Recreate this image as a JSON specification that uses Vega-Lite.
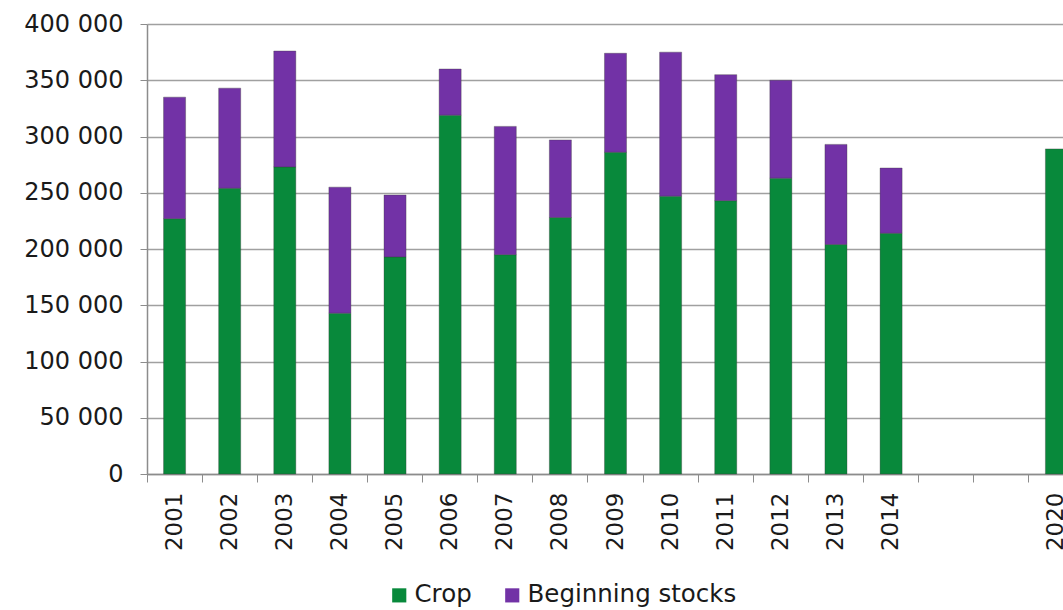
{
  "$schema": "https://vega.github.io/schema/vega-lite/v6.json",
  "autosize": "none",
  "padding": {"left": 147, "top": 24, "right": 0, "bottom": 136},
  "width": 916,
  "height": 450,
  "background": "white",
  "config": {
    "font": "DejaVu Sans",
    "view": {"stroke": null}
  },
  "data": {
    "values": [
      {"year": "2001", "series": "Crop", "value": 227000},
      {"year": "2001", "series": "Beginning stocks", "value": 108000},
      {"year": "2002", "series": "Crop", "value": 254000},
      {"year": "2002", "series": "Beginning stocks", "value": 89000},
      {"year": "2003", "series": "Crop", "value": 273000},
      {"year": "2003", "series": "Beginning stocks", "value": 103000},
      {"year": "2004", "series": "Crop", "value": 143000},
      {"year": "2004", "series": "Beginning stocks", "value": 112000},
      {"year": "2005", "series": "Crop", "value": 193000},
      {"year": "2005", "series": "Beginning stocks", "value": 55000},
      {"year": "2006", "series": "Crop", "value": 319000},
      {"year": "2006", "series": "Beginning stocks", "value": 41000},
      {"year": "2007", "series": "Crop", "value": 195000},
      {"year": "2007", "series": "Beginning stocks", "value": 114000},
      {"year": "2008", "series": "Crop", "value": 228000},
      {"year": "2008", "series": "Beginning stocks", "value": 69000},
      {"year": "2009", "series": "Crop", "value": 286000},
      {"year": "2009", "series": "Beginning stocks", "value": 88000},
      {"year": "2010", "series": "Crop", "value": 247000},
      {"year": "2010", "series": "Beginning stocks", "value": 128000},
      {"year": "2011", "series": "Crop", "value": 243000},
      {"year": "2011", "series": "Beginning stocks", "value": 112000},
      {"year": "2012", "series": "Crop", "value": 263000},
      {"year": "2012", "series": "Beginning stocks", "value": 87000},
      {"year": "2013", "series": "Crop", "value": 204000},
      {"year": "2013", "series": "Beginning stocks", "value": 89000},
      {"year": "2014", "series": "Crop", "value": 214000},
      {"year": "2014", "series": "Beginning stocks", "value": 58000},
      {"year": "2020", "series": "Crop", "value": 289000}
    ]
  },
  "mark": {"type": "bar", "width": {"band": 0.4}, "stroke": "#3a3a3a", "strokeOpacity": 0.35, "strokeWidth": 1},
  "encoding": {
    "x": {
      "field": "year",
      "type": "nominal",
      "scale": {
        "domain": ["2001","2002","2003","2004","2005","2006","2007","2008","2009","2010","2011","2012","2013","2014"," ","  ","2020"],
        "range": [0, 937],
        "paddingInner": 0,
        "paddingOuter": 0
      },
      "axis": {
        "title": null,
        "labelAngle": -90,
        "labelAlign": "right",
        "labelBaseline": "middle",
        "labelFontSize": 23,
        "labelColor": "#1a1a1a",
        "labelPadding": 10,
        "bandPosition": 0,
        "tickSize": 8,
        "tickColor": "#8c8c8c",
        "domainColor": "#8c8c8c",
        "domainWidth": 1.5,
        "grid": false
      }
    },
    "y": {
      "field": "value",
      "type": "quantitative",
      "stack": "zero",
      "scale": {"domain": [0, 400000], "nice": false},
      "axis": {
        "title": null,
        "values": [0, 50000, 100000, 150000, 200000, 250000, 300000, 350000, 400000],
        "labelExpr": "replace(format(datum.value, ','), ',', ' ')",
        "labelFontSize": 24,
        "labelColor": "#1a1a1a",
        "labelPadding": 17,
        "tickSize": 7,
        "tickColor": "#8c8c8c",
        "domainColor": "#8c8c8c",
        "domainWidth": 1.5,
        "grid": true,
        "gridColor": "#a0a0a0",
        "gridWidth": 1.5
      }
    },
    "color": {
      "field": "series",
      "type": "nominal",
      "scale": {"domain": ["Crop", "Beginning stocks"], "range": ["#08893b", "#7232a6"]},
      "legend": {
        "title": null,
        "orient": "none",
        "direction": "horizontal",
        "legendX": 240,
        "legendY": 559,
        "symbolType": "square",
        "symbolSize": 200,
        "symbolStrokeWidth": 0,
        "symbolOpacity": 1,
        "labelFontSize": 24.5,
        "labelColor": "#1a1a1a",
        "labelOffset": 3,
        "labelLimit": 0,
        "columnPadding": 28
      }
    },
    "order": {"field": "series", "sort": "descending"}
  }
}
